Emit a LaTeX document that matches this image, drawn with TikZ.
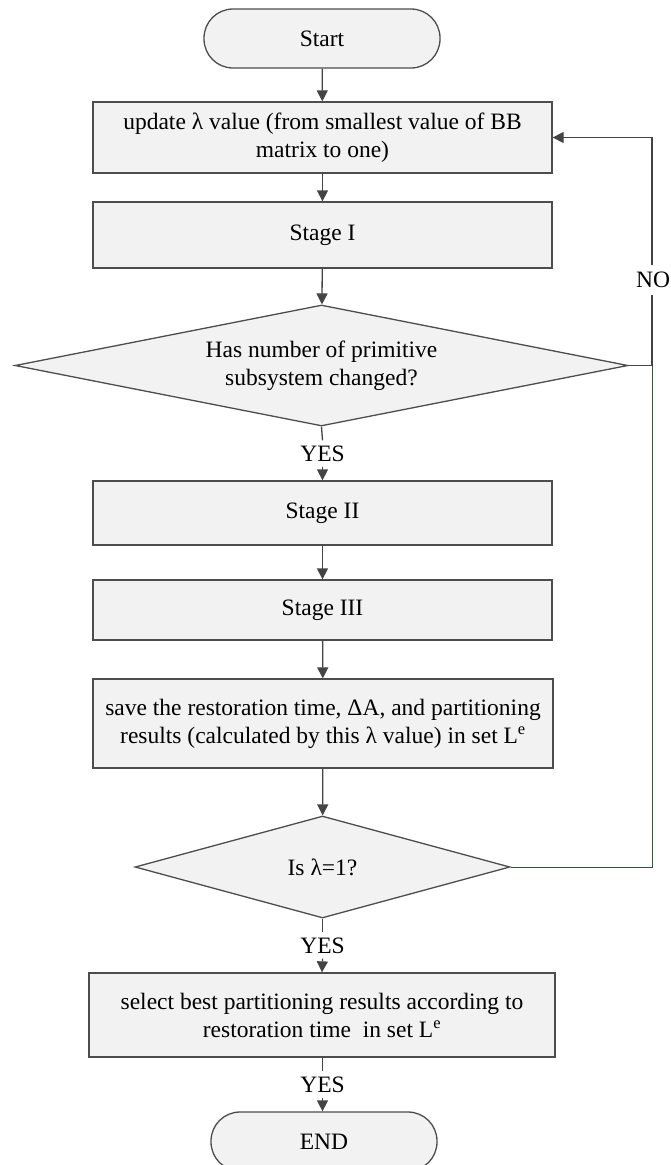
\documentclass[tikz,border=0pt]{standalone}
\usepackage{fontspec}
\setmainfont{Liberation Serif}
\usetikzlibrary{arrows.meta,shapes.geometric}

\definecolor{boxfill}{HTML}{F2F2F2}
\definecolor{boxline}{HTML}{4D4D4D}
\definecolor{flowline}{HTML}{444444}
\definecolor{loopgreen}{HTML}{2F5A3A}

\tikzset{
  txt/.style={font=\fontsize{23.5}{28}\selectfont},
  base/.style={txt, draw=boxline, fill=boxfill, line width=1.3pt, inner sep=0pt,
    align=center},
  terminal/.style={base, rectangle, rounded corners=29pt,
    minimum width=236pt, minimum height=59pt},
  procbox/.style={base, rectangle, minimum width=459pt},
  decision/.style={base, diamond},
  flow/.style={draw=flowline, line width=1.3pt,
    -{Triangle[length=11pt,width=11pt]}},
  plain/.style={draw=flowline, line width=1.3pt},
  greenline/.style={draw=loopgreen, line width=1pt},
  lbl/.style={txt, inner sep=0pt, minimum height=26pt}
}

\begin{document}
\begin{tikzpicture}
\useasboundingbox (0,0) rectangle (671pt,-1165pt);

% main column
\node[terminal] (start) at (322pt,-38.5pt) {Start};
\node[procbox, minimum height=71pt] (upd) at (322.5pt,-137.5pt)
  {update λ value (from smallest value of BB\\matrix to one)};
\node[procbox, minimum height=66pt] (s1) at (322.5pt,-235pt) {Stage I};
\node[decision, aspect=5.07, minimum width=613pt, minimum height=121pt] (d1)
  at (321.5pt,-365.5pt) {Has number of primitive\\subsystem changed?};
\node[lbl] (yes1) at (322.5pt,-453.5pt) {YES};
\node[procbox, minimum height=64pt] (s2) at (322.5pt,-513pt) {Stage II};
\node[procbox, minimum height=60pt] (s3) at (322.5pt,-610pt) {Stage III};
\node[procbox, minimum width=460pt, minimum height=89pt] (save) at (323pt,-723.5pt)
  {save the restoration time, ΔA, and partitioning\\results (calculated by this λ value) in set L\textsuperscript{e}};
\node[decision, aspect=3.68, minimum width=375pt, minimum height=102pt] (d2)
  at (322.5pt,-867pt) {Is λ=1?};
\node[lbl] (yes2) at (322.5pt,-945.5pt) {YES};
\node[procbox, minimum width=466pt, minimum height=84pt] (sel) at (322pt,-1015pt)
  {select best partitioning results according to\\restoration time\ \ in set L\textsuperscript{e}};
\node[lbl] (yes3) at (322.5pt,-1084.5pt) {YES};
\node[terminal, minimum width=226pt] (end) at (324pt,-1141.5pt) {END};

% downward flow
\draw[flow] (start) -- (upd);
\draw[flow] (upd) -- (s1);
\draw[flow] (s1) -- (d1);
\draw[plain] (d1.south) -- (yes1.north);
\draw[flow] (yes1.south) -- (s2.north);
\draw[flow] (s2) -- (s3);
\draw[flow] (s3) -- (save);
\draw[flow] (save) -- (d2);
\draw[plain] (d2.south) -- (yes2.north);
\draw[flow] (yes2.south) -- (sel.north);
\draw[plain] (sel.south -| yes3.north) -- (yes3.north);
\draw[flow] (yes3.south) -- (yes3.south |- end.north);

% loop back when the answer is NO
\node[lbl, minimum height=30pt] (no) at (653pt,-280pt) {NO};
\coordinate (nojoin) at (652pt,-365.5pt);
\coordinate (lowjoin) at (652pt,-867pt);
\draw[plain] (d1.east) -- (nojoin) -- (nojoin |- no.south);
\draw[flow] (nojoin |- no.north) |- (upd.east);
\draw[greenline] (d2.east) -- (lowjoin) -- (nojoin);
\end{tikzpicture}
\end{document}
